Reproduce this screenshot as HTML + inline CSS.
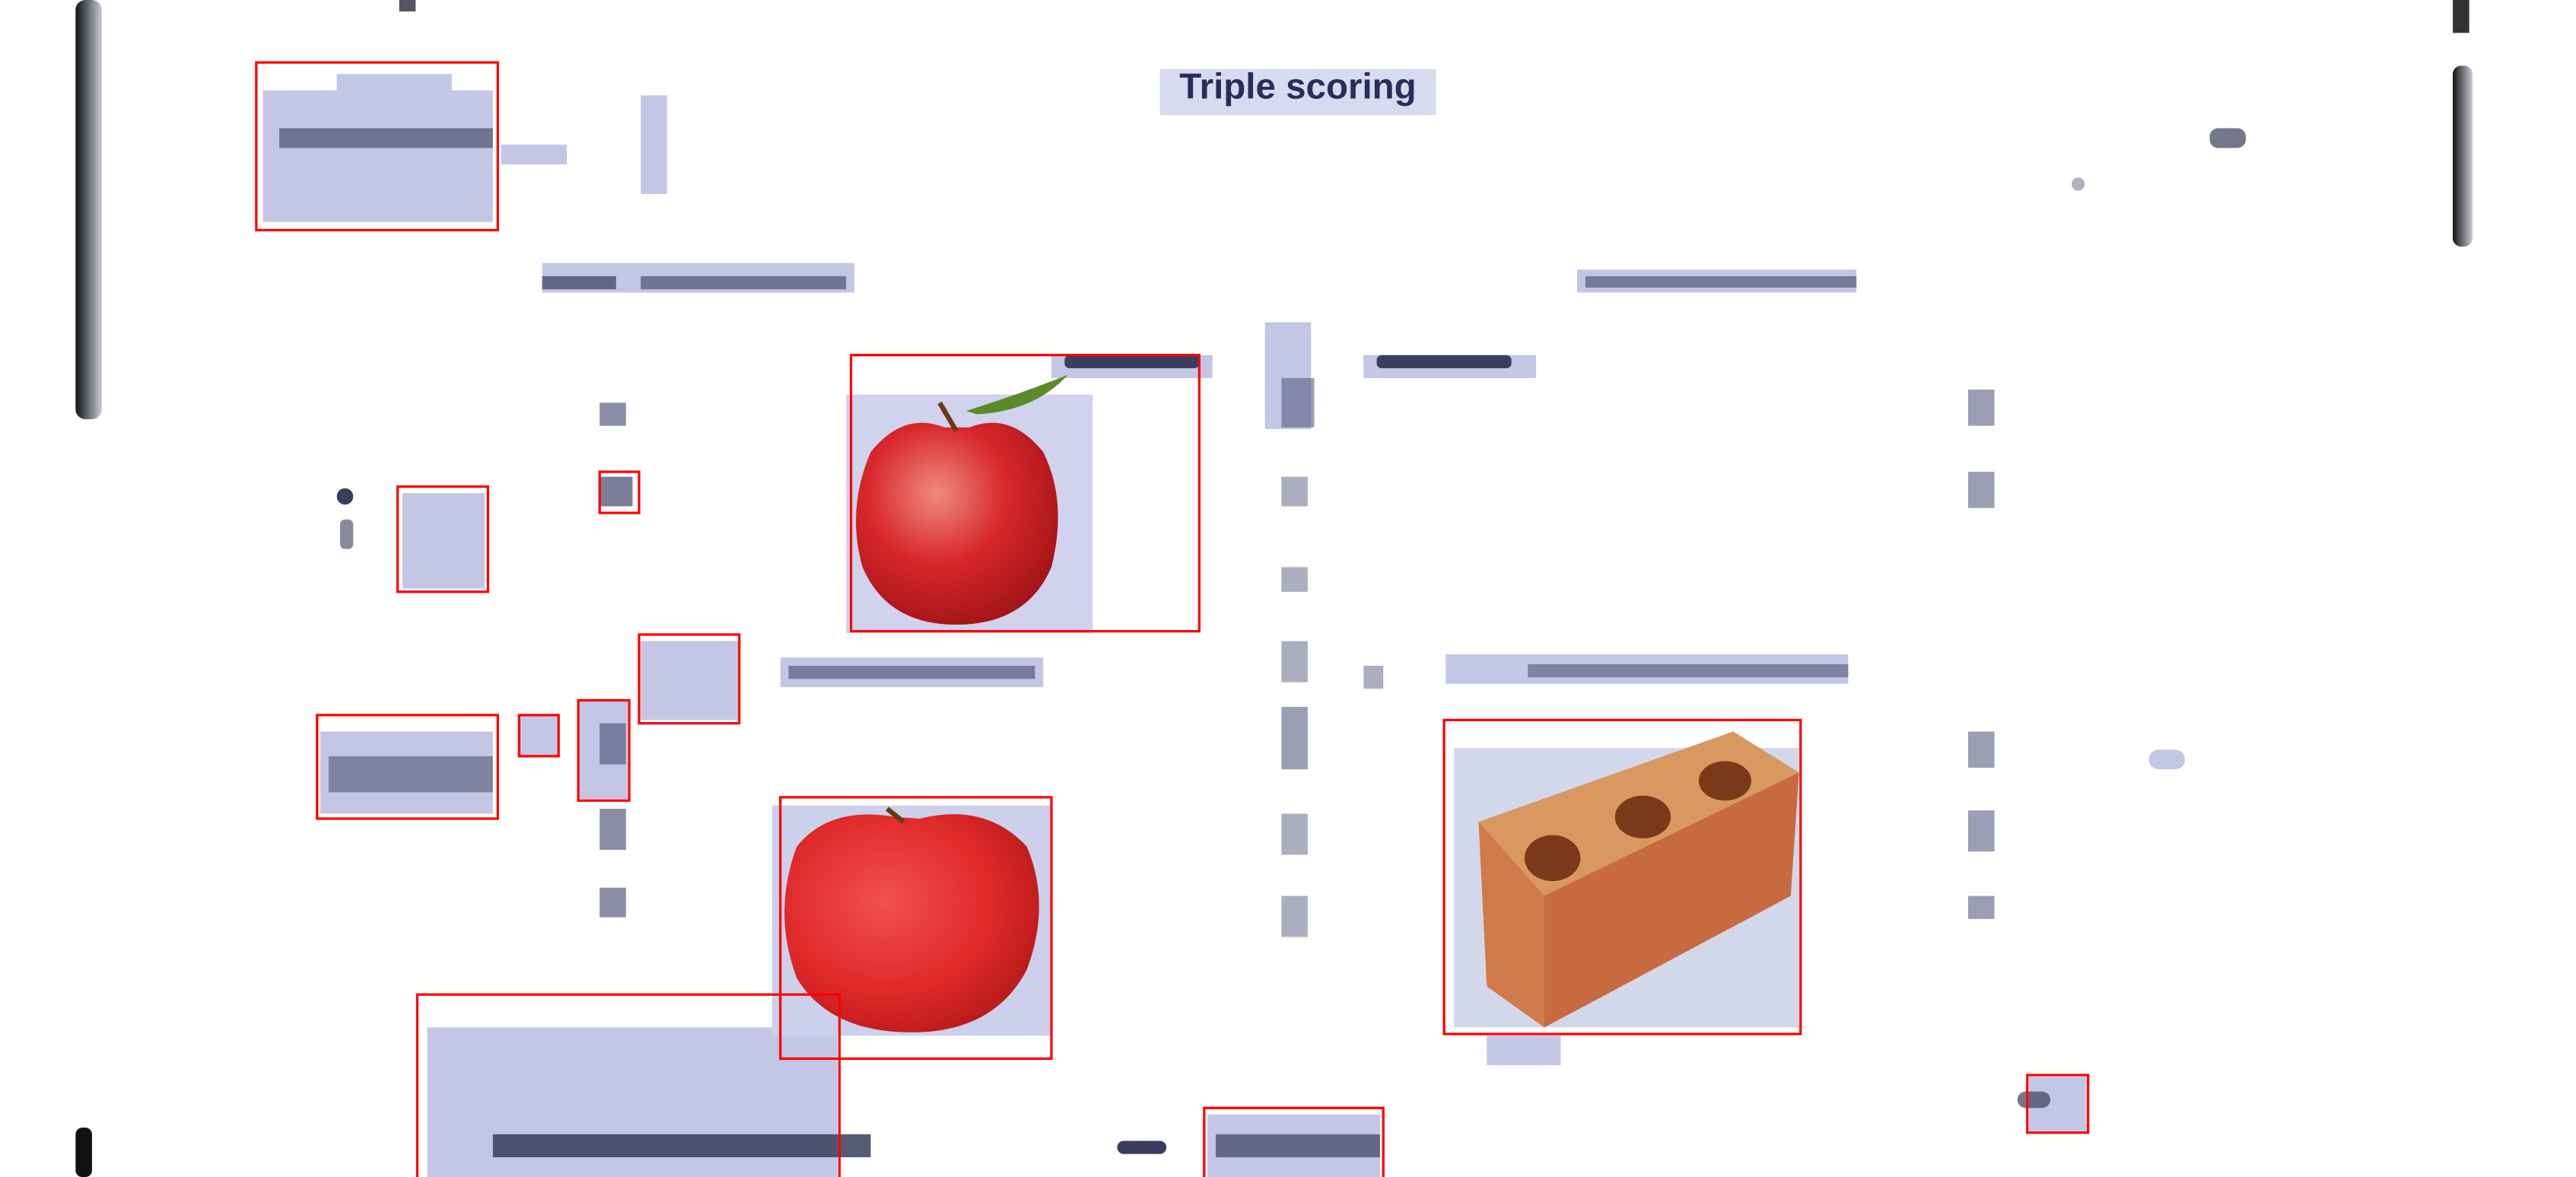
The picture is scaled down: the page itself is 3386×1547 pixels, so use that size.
<!DOCTYPE html>
<html><head><meta charset="utf-8"><style>
html,body{margin:0;padding:0;background:#fff;width:3386px;height:1547px;overflow:hidden}
svg{display:block}
</style></head><body>
<svg width="3386" height="1547" viewBox="0 0 1568 716" preserveAspectRatio="none" xmlns="http://www.w3.org/2000/svg">
<defs>
<radialGradient id="ap1" cx="0.4" cy="0.35" r="0.7"><stop offset="0" stop-color="#f08a80"/><stop offset="0.5" stop-color="#d8262a"/><stop offset="1" stop-color="#a01418"/></radialGradient>
<radialGradient id="ap2" cx="0.4" cy="0.4" r="0.7"><stop offset="0" stop-color="#f25050"/><stop offset="0.6" stop-color="#e02828"/><stop offset="1" stop-color="#b01818"/></radialGradient>
<linearGradient id="vb" x1="0" x2="1"><stop offset="0" stop-color="#111"/><stop offset="1" stop-color="#c8cbd8"/></linearGradient>
</defs>
<g>
<rect x="46" y="0" width="16" height="255" rx="6" fill="url(#vb)"/>
<rect x="46" y="686" width="10" height="30" rx="4" fill="#111"/>
<rect x="1493" y="40" width="12" height="110" rx="5" fill="url(#vb)"/>
<rect x="1493" y="0" width="10" height="20" fill="#333"/>
<rect x="243" y="0" width="10" height="7" fill="#556"/>
</g>
<g>
<rect x="706" y="42" width="168" height="28" fill="#d8daf0"/>
<text x="790" y="60" text-anchor="middle" font-family="Liberation Sans, sans-serif" font-weight="bold" font-size="22" fill="#2a2d5a">Triple scoring</text>
</g>
<g fill="#c4c6e6">
<rect x="160" y="55" width="140" height="80"/>
<rect x="205" y="45" width="70" height="15"/>
<rect x="390" y="58" width="16" height="60"/>
<rect x="305" y="88" width="40" height="12"/>
<rect x="330" y="160" width="190" height="18"/>
<rect x="960" y="164" width="170" height="14"/>
<rect x="640" y="216" width="98" height="14"/>
<rect x="830" y="216" width="105" height="14"/>
<rect x="770" y="196" width="28" height="65"/>
<rect x="245" y="300" width="50" height="58"/>
<rect x="390" y="390" width="60" height="48"/>
<rect x="475" y="400" width="160" height="18"/>
<rect x="880" y="398" width="245" height="18"/>
<rect x="195" y="445" width="105" height="50"/>
<rect x="315" y="435" width="25" height="25"/>
<rect x="352" y="426" width="30" height="60"/>
<rect x="260" y="625" width="250" height="91"/>
<rect x="735" y="678" width="105" height="38"/>
<rect x="1235" y="655" width="35" height="33"/>
<rect x="1308" y="456" width="22" height="12" rx="6"/>
<rect x="905" y="630" width="45" height="18"/>
<rect x="960" y="60" width="0" height="0"/>
</g>
<g fill="#3a3d5c">
<rect x="170" y="78" width="130" height="12" opacity="0.6"/>
<rect x="330" y="168" width="45" height="8" opacity="0.7"/>
<rect x="390" y="168" width="125" height="8" opacity="0.6"/>
<rect x="965" y="168" width="165" height="7" opacity="0.55"/>
<rect x="648" y="216" width="82" height="8" rx="3"/>
<rect x="838" y="216" width="82" height="8" rx="3"/>
<rect x="480" y="405" width="150" height="8" opacity="0.55"/>
<rect x="930" y="404" width="195" height="8" opacity="0.5"/>
<rect x="200" y="460" width="100" height="22" opacity="0.5"/>
<rect x="300" y="690" width="230" height="14" opacity="0.85"/>
<rect x="680" y="694" width="30" height="8" rx="4"/>
<rect x="740" y="690" width="100" height="14" opacity="0.7"/>
<rect x="1345" y="78" width="22" height="12" rx="5" opacity="0.7"/>
<circle cx="1265" cy="112" r="4" opacity="0.4"/>
<circle cx="210" cy="302" r="5"/>
<rect x="207" y="316" width="8" height="18" rx="3" opacity="0.6"/>
<rect x="1228" y="664" width="20" height="10" rx="5" opacity="0.7"/>
</g>
<g fill="#5a5d80">
<rect x="365" y="245" width="16" height="14" opacity="0.7"/>
<rect x="365" y="290" width="20" height="18" opacity="0.8"/>
<rect x="365" y="440" width="16" height="25" opacity="0.7"/>
<rect x="365" y="492" width="16" height="25" opacity="0.7"/>
<rect x="365" y="540" width="16" height="18" opacity="0.7"/>
<rect x="780" y="230" width="20" height="30" opacity="0.6"/>
<rect x="780" y="290" width="16" height="18" opacity="0.5"/>
<rect x="780" y="345" width="16" height="15" opacity="0.5"/>
<rect x="780" y="390" width="16" height="25" opacity="0.5"/>
<rect x="780" y="430" width="16" height="38" opacity="0.6"/>
<rect x="780" y="495" width="16" height="25" opacity="0.5"/>
<rect x="780" y="545" width="16" height="25" opacity="0.5"/>
<rect x="1198" y="237" width="16" height="22" opacity="0.6"/>
<rect x="1198" y="287" width="16" height="22" opacity="0.6"/>
<rect x="1198" y="445" width="16" height="22" opacity="0.6"/>
<rect x="1198" y="493" width="16" height="25" opacity="0.6"/>
<rect x="1198" y="545" width="16" height="14" opacity="0.6"/>
<rect x="830" y="405" width="12" height="14" opacity="0.5"/>
</g>
<g>
<rect x="515" y="240" width="150" height="145" fill="#d0d2ee"/>
<path d="M575 260 Q550 250 530 275 Q515 310 525 345 Q540 380 582 380 Q625 380 640 345 Q650 305 635 275 Q615 250 590 260 Z" fill="url(#ap1)"/>
<path d="M582 262 L572 245" stroke="#6a3a14" stroke-width="3"/>
<path d="M588 250 Q620 240 650 228 Q630 250 595 252 Z" fill="#5a8a2a"/>
</g>
<g>
<rect x="470" y="490" width="170" height="140" fill="#ccd0ea"/>
<path d="M545 497 Q505 490 485 515 Q470 555 485 595 Q505 628 555 628 Q605 628 625 590 Q640 550 625 515 Q600 488 560 498 Z" fill="url(#ap2)"/>
<path d="M550 500 L540 492" stroke="#6a3a14" stroke-width="3"/>
</g>
<g>
<rect x="885" y="455" width="210" height="170" fill="#d2d8ea"/>
<polygon points="900,500 1055,445 1095,470 1090,545 940,625 905,600" fill="#d07a4a"/>
<polygon points="900,500 1055,445 1095,470 940,545" fill="#d89860"/>
<polygon points="940,545 1095,470 1090,545 940,625" fill="#c86a40"/>
<ellipse cx="945" cy="522" rx="17" ry="14" fill="#7a3a1a"/>
<ellipse cx="1000" cy="497" rx="17" ry="13" fill="#7a3a1a"/>
<ellipse cx="1050" cy="475" rx="16" ry="12" fill="#7a3a1a"/>
</g>
<g fill="none" stroke="#ff0000" stroke-width="1.5">
<rect x="156" y="38" width="147" height="102"/>
<rect x="242" y="296" width="55" height="64"/>
<rect x="365" y="287" width="24" height="25"/>
<rect x="518" y="216" width="212" height="168"/>
<rect x="389" y="386" width="61" height="54"/>
<rect x="193" y="435" width="110" height="63"/>
<rect x="316" y="435" width="24" height="25"/>
<rect x="352" y="426" width="31" height="61"/>
<rect x="475" y="485" width="165" height="159"/>
<rect x="879" y="438" width="217" height="191"/>
<rect x="254" y="605" width="257" height="115"/>
<rect x="733" y="674" width="109" height="46"/>
<rect x="1234" y="654" width="37" height="35"/>
</g>
</svg>
</body></html>
